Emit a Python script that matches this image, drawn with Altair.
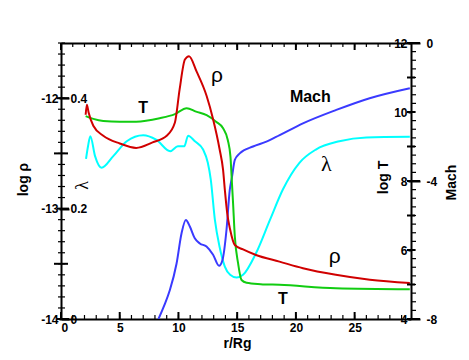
import altair as alt
import pandas as pd

# ---------------- data ----------------
rho_r = [2.1, 2.2, 2.35, 2.75, 3.6, 5.0, 6.4, 7.8, 9.0, 9.7, 10.1, 10.55, 10.9, 11.55,
         12.4, 12.95, 13.5, 13.8, 13.95, 14.15, 14.4, 14.8, 15.5, 16.6, 18.6, 20.6,
         23.4, 26.3, 29.7]
rho_v = [-12.15, -12.06, -12.13, -12.25, -12.34, -12.41, -12.45, -12.40, -12.34, -12.22,
         -11.92, -11.65, -11.62, -11.76, -11.98, -12.19, -12.46, -12.65, -12.83, -13.04,
         -13.19, -13.33, -13.37, -13.42, -13.48, -13.54, -13.60, -13.645, -13.675]

T_r = [2.1, 2.75, 3.6, 5.0, 6.4, 8.4, 9.7, 10.7, 11.5, 12.4, 13.2, 13.8, 14.2, 14.43,
       14.54, 14.65, 14.8, 15.08, 15.37, 15.8, 17.0, 18.6, 23.4, 29.7]
T_v = [9.88, 9.80, 9.74, 9.72, 9.72, 9.82, 9.94, 10.11, 10.01, 9.91, 9.72, 9.53, 9.19,
       8.70, 8.03, 7.36, 6.39, 5.61, 5.13, 5.05, 5.01, 4.99, 4.89, 4.86]

lam_r = [2.13, 2.3, 2.5, 2.9, 3.45, 4.45, 5.6, 7.0, 8.1, 9.3, 9.95, 10.5, 10.82, 11.4,
         12.1, 12.5, 12.75, 13.1, 13.5, 13.95, 14.4, 14.95, 15.5, 16.6, 17.8, 18.9, 20.3,
         21.7, 23.7, 26.0, 29.7]
lam_v = [0.290, 0.313, 0.331, 0.295, 0.274, 0.295, 0.322, 0.333, 0.325, 0.304, 0.313,
         0.313, 0.332, 0.322, 0.307, 0.283, 0.253, 0.180, 0.131, 0.095, 0.080, 0.075,
         0.080, 0.119, 0.180, 0.235, 0.283, 0.307, 0.322, 0.329, 0.330]

mach_r = [8.3, 8.8, 9.27, 9.84, 10.26, 10.63, 10.97, 11.39, 11.82, 12.39, 12.95, 13.46,
          13.75, 14.09, 14.37, 14.55, 14.8, 15.22, 16.35, 17.49, 18.62, 20.6, 23.44,
          26.28, 29.7]
mach_v = [-8.0, -7.6, -7.16, -6.39, -5.52, -5.13, -5.32, -5.66, -5.81, -5.90, -6.14,
          -6.46, -6.29, -5.42, -4.26, -3.90, -3.39, -3.20, -3.00, -2.86, -2.67, -2.33,
          -1.94, -1.60, -1.31]

# tick values
x_major = [0, 5, 10, 15, 20, 25]
x_minor = list(range(0, 30))
rho_labeled = [-14, -13, -12]
rho_half = [-13.5, -12.5]
rho_minor = [round(-14 + 0.1 * i, 1) for i in range(26)]
lam_labeled = [0, 0.2, 0.4]
T_labeled = [4, 6, 8, 10, 12]
T_int = list(range(4, 13))
T_minor = [4 + 0.25 * i for i in range(33)]
mach_labeled = [-8, -4, 0]

# in-plot labels (positions in r / log rho data units)
ann_rho_text = ["ρ", "ρ"]
ann_rho_r = [13.27, 23.3]
ann_rho_y = [-11.80, -13.434]
ann_bold_text = ["T", "Mach", "T"]
ann_bold_r = [7.0, 21.23, 18.9]
ann_bold_y = [-12.09, -11.985, -13.82]
ann_lam_text = ["λ"]
ann_lam_r = [22.59]
ann_lam_y = [-12.6]

# ---------------- chart ----------------
FONT = "Liberation Sans"
W, H = 350, 276
XD = [0, 29.8]
RHO_D = [-14, -11.5]
LAM_D = [0, 0.5]
T_D = [4, 12]
M_D = [-8, 0]
TICK_COLOR = "#000000"


def ax(orient, values, size, labels=True, domain=False, offset=0, **kw):
    opts = dict(orient=orient, values=values, tickSize=size, tickWidth=2,
                tickColor="#000000", ticks=True, labels=labels,
                domain=domain, domainColor="#000000", domainWidth=2, offset=offset,
                grid=False, labelFont=FONT, labelFontSize=12, labelFontWeight="bold",
                labelColor="#000000", titleFont=FONT, titleFontSize=14,
                titleFontWeight="bold", titleColor="#000000", title=None)
    opts.update(kw)
    return alt.Axis(**opts)


def xs():
    return alt.Scale(domain=XD, nice=False, zero=False)


def ys(dom):
    return alt.Scale(domain=dom, nice=False, zero=False)


def enc(chart, ydom, xaxis, yaxis):
    return chart.encode(
        x=alt.X("r:Q", scale=xs(), axis=xaxis),
        y=alt.Y("v:Q", scale=ys(ydom), axis=yaxis),
    )


rho_df = pd.DataFrame({"r": rho_r, "v": rho_v})
T_df = pd.DataFrame({"r": T_r, "v": T_v})
lam_df = pd.DataFrame({"r": lam_r, "v": lam_v})
mach_df = pd.DataFrame({"r": mach_r, "v": mach_v})

# axes (labels, frame lines, titles)
X1 = ax("bottom", x_major, 0, domain=True, labelPadding=3,
        title="r/Rg", titleX=176, titleY=24, titleBaseline="middle", titleAlign="center")
X4 = ax("bottom", x_major, 0, labels=False, domain=True, offset=-H)
Y1 = ax("left", rho_labeled, 2, domain=True, labelPadding=1,
        labelExpr="toString(datum.value)",
        title="log ρ", titleX=-38, titleY=136, titleAngle=270, titleBaseline="middle",
        titleAlign="center")
Y4 = ax("right", lam_labeled, 8, offset=-W, labelPadding=1,
        labelExpr="datum.value == 0 ? '0' : format(datum.value, '.1f')",
        title="λ", titleX=21, titleY=142, titleAngle=270, titleBaseline="middle",
        titleAlign="center", titleFont="Liberation Serif", titleFontWeight="normal",
        titleFontSize=18)
Y7 = ax("left", T_labeled, 3, offset=-W, labelPadding=1,
        labelExpr="toString(datum.value)",
        title="log T", titleX=-28, titleY=134, titleAngle=270, titleBaseline="middle",
        titleAlign="center")
Y8 = ax("right", mach_labeled, 9, domain=True, labelPadding=6,
        labelExpr="toString(datum.value)",
        title="Mach", titleX=40, titleY=139, titleAngle=270, titleBaseline="middle",
        titleAlign="center")

line_kw = dict(strokeWidth=2, interpolate="monotone", clip=True)

rho_line = enc(alt.Chart(rho_df).mark_line(color="#d00000", **line_kw), RHO_D, X1, Y1)
T_line = enc(alt.Chart(T_df).mark_line(color="#11cc11", **line_kw), T_D, X4, Y7)
lam_line = enc(alt.Chart(lam_df).mark_line(color="#00ffff", **line_kw), LAM_D, None, Y4)
mach_line = enc(alt.Chart(mach_df).mark_line(color="#3a3aff", **line_kw), M_D, None, Y8)


# tick marks drawn through the scales
def yticks(vals, dom, x0, x1, width):
    return alt.Chart(pd.DataFrame({"v": vals})).mark_rule(
        color=TICK_COLOR, strokeWidth=width, opacity=1).encode(
        y=alt.Y("v:Q", scale=ys(dom), axis=None),
        x=alt.value(x0), x2=alt.value(x1))


def xticks(vals, y0, y1, width):
    return alt.Chart(pd.DataFrame({"r": vals})).mark_rule(
        color=TICK_COLOR, strokeWidth=width, opacity=1).encode(
        x=alt.X("r:Q", scale=xs(), axis=None),
        y=alt.value(y0), y2=alt.value(y1))


tick_layers = [
    yticks(rho_minor, RHO_D, -3, 4, 1.2),
    yticks(rho_half, RHO_D, -7, 7, 2),
    yticks(rho_labeled, RHO_D, -4, 8, 2),
    yticks(T_minor, T_D, W, W + 5, 1.2),
    yticks(T_int, T_D, W - 4, W + 4, 2),
    yticks(T_labeled, T_D, W - 4, W + 4, 2),
    yticks(mach_labeled, M_D, W - 4, W + 9, 2),
    xticks(x_minor, H - 4, H, 1.2),
    xticks(x_major, H - 7, H, 2),
    xticks(x_minor, 0, 4, 1.2),
    xticks(x_major, 0, 7, 2),
]

rho_ann = alt.Chart(pd.DataFrame({"r": ann_rho_r, "v": ann_rho_y, "t": ann_rho_text})).mark_text(
    font=FONT, fontSize=21, color="black", baseline="middle")
rho_ann = enc(rho_ann, RHO_D, None, None).encode(text="t:N")
bold_ann = alt.Chart(pd.DataFrame({"r": ann_bold_r, "v": ann_bold_y, "t": ann_bold_text})).mark_text(
    font=FONT, fontSize=16, fontWeight="bold", color="black", baseline="middle")
bold_ann = enc(bold_ann, RHO_D, None, None).encode(text="t:N")
lam_ann = alt.Chart(pd.DataFrame({"r": ann_lam_r, "v": ann_lam_y, "t": ann_lam_text})).mark_text(
    font="Liberation Serif", fontSize=22, color="black", baseline="middle")
lam_ann = enc(lam_ann, RHO_D, None, None).encode(text="t:N")

chart = (
    alt.layer(lam_line, mach_line, T_line, rho_line, *tick_layers,
              rho_ann, bold_ann, lam_ann)
    .resolve_scale(x="independent", y="independent")
    .properties(width=W, height=H,
                autosize=alt.AutoSizeParams(type="none"),
                padding={"left": 53, "top": 35, "right": 50, "bottom": 33},
                background="white")
    .configure_view(stroke=None)
)

chart.save("out.html", embed_options={"renderer": "svg", "actions": False})
